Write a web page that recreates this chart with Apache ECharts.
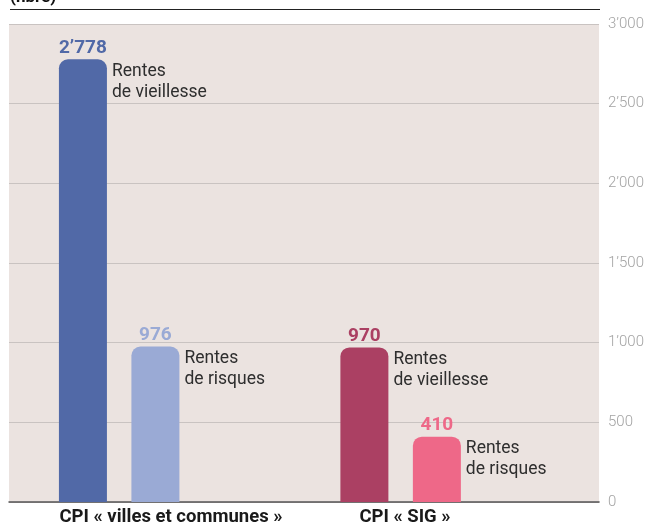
<!DOCTYPE html>
<html>
<head>
<meta charset="utf-8">
<script src="https://cdn.jsdelivr.net/npm/echarts@6/dist/echarts.min.js"></script>
<style>
  html, body { margin: 0; padding: 0; background: #fff; }
  #chart { width: 647px; height: 527px; }
</style>
</head>
<body>
<div id="chart"></div>
<script>
var categories = ['CPI « villes et communes »', 'CPI « SIG »'];
var seriesNames = ['Rentes de vieillesse', 'Rentes de risques'];
var sideLabels = ['Rentes\nde vieillesse', 'Rentes\nde risques'];
var vieillesse = [2778, 970];
var risques = [976, 410];
var yTicks = { min: 0, max: 3000, interval: 500 };

var vieillesseColors = ['#5169a7', '#ab4063'];
var risquesColors = ['#9aaad5', '#ee6888'];

// an empty slot between the two groups keeps them apart
var axisCats = [categories[0], '', categories[1]];
function spread(values) {
  return [values[0], null, values[1]];
}

function fmt(v) {
  return String(v).replace(/\B(?=(\d{3})+(?!\d))/g, '\u2019');
}

function items(values, colors) {
  return spread(values.map(function (v, i) {
    return {
      value: v,
      itemStyle: { color: colors[i] },
      label: { color: colors[i] }
    };
  }));
}

function barSeries(name, values, colors) {
  return {
    name: name,
    type: 'bar',
    xAxisIndex: 1,
    yAxisIndex: 1,
    barWidth: 48,
    barGap: '51%',
    data: items(values, colors),
    itemStyle: { borderRadius: [9, 9, 0, 0] },
    label: {
      show: true,
      position: 'top',
      distance: 2,
      fontFamily: 'Roboto',
      fontWeight: 'bold',
      fontSize: 19,
      formatter: function (p) { return fmt(p.value); }
    },
    silent: true
  };
}

function sideSeries(text, values) {
  return {
    type: 'bar',
    xAxisIndex: 2,
    yAxisIndex: 1,
    barWidth: 48,
    barGap: '51%',
    data: spread(values),
    itemStyle: { color: 'transparent' },
    label: {
      show: true,
      position: [53, 1.5],
      align: 'left',
      verticalAlign: 'top',
      fontFamily: 'Roboto',
      fontSize: 17.5,
      lineHeight: 21,
      color: '#2e2e2e',
      formatter: text
    },
    silent: true
  };
}

var chart = echarts.init(document.getElementById('chart'));

var option = {
  backgroundColor: '#ffffff',
  animation: false,
  grid: [
    { left: 9, right: 47, top: 24, bottom: 25, show: true, backgroundColor: '#ebe3e0', borderWidth: 0 },
    { left: 48.8, width: 422.2, top: 24, bottom: 25 }
  ],
  xAxis: [
    {
      gridIndex: 0,
      type: 'value',
      min: 0,
      max: 1,
      axisLine: { show: true, onZero: false, lineStyle: { color: '#555', width: 1.5 } },
      axisTick: { show: false },
      axisLabel: { show: false },
      splitLine: { show: false }
    },
    { gridIndex: 1, type: 'category', data: axisCats, show: false },
    { gridIndex: 1, type: 'category', data: axisCats, show: false, position: 'top' }
  ],
  yAxis: [
    {
      gridIndex: 0,
      type: 'value',
      position: 'right',
      min: yTicks.min,
      max: yTicks.max,
      interval: yTicks.interval,
      axisLine: { show: false },
      axisTick: { show: false },
      axisLabel: {
        margin: 9,
        color: '#a3a3a3',
        fontFamily: 'Roboto',
        fontWeight: 300,
        fontSize: 15,
        padding: [0, 0, 7, 0],
        formatter: fmt
      },
      splitLine: { lineStyle: { color: '#c9c3c1', width: 1 } }
    },
    { gridIndex: 1, type: 'value', min: yTicks.min, max: yTicks.max, show: false }
  ],
  series: [
    barSeries(seriesNames[0], vieillesse, vieillesseColors),
    barSeries(seriesNames[1], risques, risquesColors),
    sideSeries(sideLabels[0], vieillesse),
    sideSeries(sideLabels[1], risques)
  ],
  graphic: [
    {
      type: 'line',
      shape: { x1: 10, y1: 9.5, x2: 600, y2: 9.5 },
      style: { stroke: '#222', lineWidth: 1 }
    },
    {
      type: 'text',
      x: 10,
      y: 6,
      style: {
        text: '(nbre)',
        fill: '#111',
        font: 'bold 17px Roboto',
        verticalAlign: 'bottom'
      }
    },
    {
      type: 'text',
      x: 171,
      y: 517.5,
      style: {
        text: categories[0],
        fill: '#1a1a1a',
        font: 'bold 18.5px Roboto',
        align: 'center',
        verticalAlign: 'middle'
      }
    },
    {
      type: 'text',
      x: 405,
      y: 517.5,
      style: {
        text: categories[1],
        fill: '#1a1a1a',
        font: 'bold 18.5px Roboto',
        align: 'center',
        verticalAlign: 'middle'
      }
    }
  ]
};

chart.setOption(option);
</script>
</body>
</html>
